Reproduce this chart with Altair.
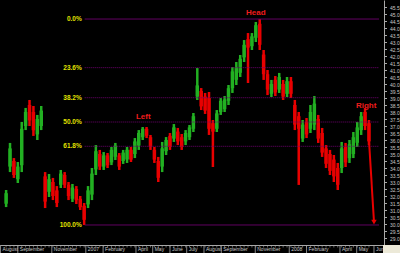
import altair as alt
import pandas as pd

# ---------------- data (weekly OHLC) ----------------
start_date = "2006-08-11"
highs = [32.43, 35.79, 34.71, 34.43, 37.29, 38.29, 38.86, 38.43, 37.79, 38.43,
         33.71, 33.57, 33.29, 32.71, 33.86, 33.71, 33.0, 32.86, 32.71, 32.0,
         31.5, 32.71, 34.0, 35.64, 35.29, 35.14, 35.07, 35.5, 35.79, 35.07,
         35.29, 35.5, 35.5, 36.14, 36.71, 36.93, 36.93, 36.36, 35.5, 34.79,
         35.86, 36.21, 36.5, 37.14, 36.86, 36.43, 36.71, 37.07, 37.93, 41.14,
         39.71, 39.36, 39.43, 37.43, 38.14, 39.0, 39.14, 39.93, 41.21, 41.57,
         42.07, 43.14, 43.64, 43.64, 44.43, 44.64, 42.43, 41.0, 40.29, 40.57,
         40.79, 40.29, 40.5, 40.5, 38.86, 38.0, 37.43, 37.57, 38.5, 39.14,
         37.79, 36.86, 35.64, 35.29, 34.93, 34.36, 35.86, 35.79, 36.0, 36.57,
         37.29, 38.0, 38.29, 37.43]
lows = [31.21, 33.71, 33.29, 32.93, 33.71, 36.71, 37.0, 36.29, 36.0, 36.71,
        31.14, 31.93, 31.71, 31.21, 32.57, 32.57, 31.71, 31.57, 31.43, 31.0,
        29.93, 31.14, 31.71, 33.5, 33.86, 33.86, 34.0, 34.21, 34.57, 33.86,
        34.29, 34.36, 34.43, 34.71, 35.29, 36.0, 36.14, 35.29, 34.36, 33.0,
        33.71, 34.93, 35.29, 35.86, 35.64, 35.29, 35.64, 36.0, 36.57, 38.86,
        38.14, 37.86, 36.36, 34.07, 36.57, 37.79, 38.0, 38.5, 39.36, 39.93,
        40.5, 41.57, 40.07, 42.43, 43.0, 42.43, 40.29, 39.21, 39.07, 39.14,
        39.36, 38.86, 39.07, 39.0, 36.71, 32.79, 35.86, 36.14, 36.5, 36.71,
        35.79, 34.79, 34.0, 33.5, 33.0, 32.43, 33.64, 34.07, 34.36, 34.71,
        35.5, 36.36, 36.71, 35.64]
opens = [31.45, 34.1, 34.5, 33.2, 34.2, 37.0, 38.5, 38.0, 36.4, 37.0,
         33.4, 32.3, 33.0, 32.4, 32.8, 33.5, 32.8, 31.8, 32.5, 31.8,
         31.3, 31.4, 32.1, 33.9, 35.0, 34.1, 34.9, 34.4, 34.8, 34.9,
         34.5, 34.6, 35.3, 35.0, 35.6, 36.2, 36.8, 36.2, 35.3, 34.5,
         34.1, 35.2, 36.3, 36.1, 36.6, 36.2, 35.9, 36.2, 36.8, 39.1,
         39.5, 39.1, 39.0, 37.2, 36.8, 38.0, 38.2, 38.8, 39.7, 40.3,
         40.8, 41.9, 43.2, 42.7, 43.3, 44.3, 42.1, 40.7, 39.3, 40.3,
         39.6, 40.0, 39.3, 40.2, 38.5, 37.7, 36.1, 37.3, 36.8, 37.1,
         37.5, 36.5, 35.4, 35.0, 34.6, 34.0, 34.0, 35.5, 34.7, 35.0,
         35.8, 36.7, 38.0, 37.2]
closes = [32.2, 35.4, 33.5, 34.1, 36.8, 38.0, 37.4, 36.7, 37.5, 38.1,
          31.6, 33.2, 32.0, 31.5, 33.6, 32.8, 32.0, 32.6, 31.7, 31.2,
          30.3, 32.4, 33.6, 35.2, 34.1, 34.9, 34.2, 35.3, 35.6, 34.1,
          35.1, 35.3, 34.6, 35.9, 36.5, 36.8, 36.3, 35.5, 34.6, 33.3,
          35.4, 36.0, 35.5, 36.9, 35.9, 35.5, 36.5, 36.9, 37.7, 39.9,
          38.4, 38.1, 36.8, 36.6, 37.9, 38.8, 38.9, 39.7, 40.9, 41.2,
          41.8, 42.8, 42.6, 43.4, 44.2, 42.8, 40.7, 39.6, 40.0, 39.4,
          40.5, 39.1, 40.2, 39.3, 37.1, 36.8, 37.1, 36.4, 38.0, 38.6,
          36.1, 35.1, 34.3, 33.8, 33.4, 32.8, 35.4, 34.4, 35.7, 36.2,
          36.9, 37.7, 37.0, 35.9]

# Fibonacci retracement
fib_high = 44.64
fib_low = 29.93
fib_ratios = [0.0, 0.236, 0.382, 0.5, 0.618, 1.0]
fib_labels = ["0.0%", "23.6%", "38.2%", "50.0%", "61.8%", "100.0%"]
fib_start = "2006-12-30"
fib_end = "2008-06-10"

# head & shoulders annotations
ann_labels = ["Left", "Head", "Right"]
ann_dates = ["2007-04-14", "2007-11-02", "2008-05-18"]
ann_prices = [37.64, 45.07, 38.43]

# projection arrow
arrow_dates = ["2008-05-23", "2008-06-01"]
arrow_prices = [36.0, 30.14]

# axes
month_ticks = ["2006-08-01", "2006-09-01", "2006-11-01", "2007-01-01", "2007-02-01",
               "2007-04-01", "2007-05-01", "2007-06-01", "2007-07-01", "2007-08-01",
               "2007-09-01", "2007-11-01", "2008-01-01", "2008-02-01", "2008-04-01",
               "2008-05-01", "2008-06-01"]
y_ticks = [29.0, 29.5, 30.0, 30.5, 31.0, 31.5, 32.0, 32.5, 33.0, 33.5, 34.0, 34.5,
           35.0, 35.5, 36.0, 36.5, 37.0, 37.5, 38.0, 38.5, 39.0, 39.5, 40.0, 40.5,
           41.0, 41.5, 42.0, 42.5, 43.0, 43.5, 44.0, 44.5, 45.0, 45.5]
x_domain = ["2006-08-09", "2008-06-10"]
y_domain = [28.5, 46.0]

# ---------------- tables ----------------
dates = pd.date_range(start_date, periods=len(highs), freq="7D")
df = pd.DataFrame({"date": dates, "open": opens, "high": highs,
                   "low": lows, "close": closes})
df["dir"] = ["up" if c >= o else "down" for o, c in zip(opens, closes)]

fib_df = pd.DataFrame({
    "label": fib_labels,
    "price": [fib_high - r * (fib_high - fib_low) for r in fib_ratios],
    "kind": ["solid" if r in (0.0, 1.0) else "dotted" for r in fib_ratios],
    "start": pd.to_datetime([fib_start] * len(fib_ratios)),
    "end": pd.to_datetime([fib_end] * len(fib_ratios)),
})
ann_df = pd.DataFrame({"label": ann_labels, "date": pd.to_datetime(ann_dates),
                       "price": ann_prices})
arrow_df = pd.DataFrame({"date": pd.to_datetime(arrow_dates), "price": arrow_prices})
month_df = pd.DataFrame({"date": pd.to_datetime(month_ticks)})


def dt(s):
    t = pd.Timestamp(s)
    return alt.DateTime(year=t.year, month=t.month, date=t.day)


xs = alt.Scale(domain=[dt(x_domain[0]), dt(x_domain[1])])
ys = alt.Scale(domain=y_domain, nice=False, zero=False)

GREEN = "#22b022"
RED = "#e80000"
AXIS_GRAY = "#a8a8a8"

color = alt.Color("dir:N", scale=alt.Scale(domain=["up", "down"], range=[GREEN, RED]),
                  legend=None)

x_axis = alt.Axis(values=[dt(m) for m in month_ticks], ticks=False, grid=False,
                  labelExpr="month(datum.value) == 0 ? timeFormat(datum.value, '%Y') : timeFormat(datum.value, '%B')",
                  labelAlign="left", labelBaseline="top", labelPadding=1.5,
                  labelOffset=1.5, labelFontSize=5, labelFont="Liberation Sans",
                  labelColor="#c8c8c8", domainColor=AXIS_GRAY, domainWidth=1,
                  labelOverlap=False, labelFlush=False, labelBound=False, title=None)
y_axis = alt.Axis(orient="right", values=y_ticks, format=".1f", grid=False,
                  tickSize=2.5, tickColor=AXIS_GRAY, domainColor=AXIS_GRAY,
                  labelFontSize=5, labelFont="Liberation Sans", labelColor="#c8c8c8",
                  labelPadding=3, labelOverlap=False, labelFlush=False, title=None)


def X(field):
    return alt.X(field, scale=xs, axis=x_axis)


def Y(field):
    return alt.Y(field, scale=ys, axis=y_axis)


base = alt.Chart(df)

wicks = base.mark_rule(strokeWidth=2.5).encode(
    x=X("date:T"), y=Y("low:Q"), y2="high:Q", color=color,
)
bodies = base.mark_bar(size=3.5).encode(
    x=X("date:T"), y=Y("open:Q"), y2="close:Q", color=color,
)

fib_lines = alt.Chart(fib_df).mark_rule(strokeWidth=1, color="#6e006e").encode(
    x=X("start:T"),
    x2="end:T",
    y=Y("price:Q"),
    strokeDash=alt.StrokeDash("kind:N", scale=alt.Scale(domain=["solid", "dotted"],
                                                          range=[[1, 0], [1, 1]]),
                              legend=None),
)
fib_text = alt.Chart(fib_df).mark_text(align="right", baseline="middle", dx=-3,
                                       fontSize=6.5, fontWeight="bold",
                                       font="Liberation Sans", color="#e2e200").encode(
    x=X("start:T"), y=Y("price:Q"), text="label:N",
)
ann_text = alt.Chart(ann_df).mark_text(align="center", baseline="middle", fontSize=8,
                                       fontWeight="bold", font="Liberation Sans",
                                       color="#ee1c1c").encode(
    x=X("date:T"), y=Y("price:Q"), text="label:N",
)
arrow_line = alt.Chart(arrow_df).mark_line(color=RED, strokeWidth=2).encode(
    x=X("date:T"), y=Y("price:Q"),
)
arrow_head = alt.Chart(arrow_df.tail(1)).mark_point(shape="triangle-down", filled=True,
                                                    size=30, color=RED, opacity=1).encode(
    x=X("date:T"), y=Y("price:Q"),
)
week_ticks = base.mark_rule(color=AXIS_GRAY, strokeWidth=0.6).encode(
    x=X("date:T"), y=alt.value(245), y2=alt.value(247.5),
)
month_rules = alt.Chart(month_df).mark_rule(color=AXIS_GRAY, strokeWidth=0.8).encode(
    x=X("date:T"), y=alt.value(245), y2=alt.value(253),
)
corner = alt.Chart(pd.DataFrame({"k": [0]})).mark_rect(color="#ece9d8").encode(
    x=alt.value(383), x2=alt.value(400), y=alt.value(245), y2=alt.value(253),
)

chart = alt.layer(
    wicks, bodies, fib_lines, fib_text, ann_text, arrow_line, arrow_head,
    week_ticks, month_rules, corner,
).properties(
    width=384, height=245, background="#000000",
    autosize=alt.AutoSizeParams(type="none"),
    padding={"left": 0, "top": 0, "right": 16, "bottom": 8},
).configure_view(strokeWidth=0, fill="#000000")

chart.save("out.html", embed_options={"renderer": "svg", "actions": False})
